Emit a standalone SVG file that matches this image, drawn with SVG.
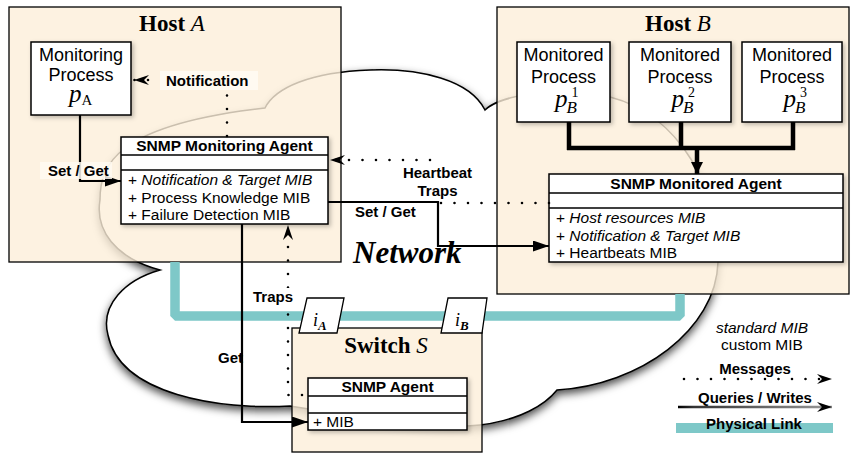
<svg xmlns="http://www.w3.org/2000/svg" width="851" height="454" viewBox="0 0 851 454">
<defs>
<style>
.host{fill:#fcefd9;fill-opacity:.8;stroke:#000;stroke-width:1.3}
.box{fill:#fff;stroke:#000;stroke-width:1.5;filter:url(#sh)}
.sep{stroke:#000;stroke-width:1.5}
.sans{font-family:"Liberation Sans",Arial,sans-serif;fill:#000}
.proc{font-size:18px;text-anchor:middle}
.hdr{font-size:15.5px;font-weight:bold;text-anchor:middle}
.row{font-size:15.5px}
.it{font-style:italic}
.lbl{font-size:15px;font-weight:bold}
.serif{font-family:"Liberation Serif","Times New Roman",serif;fill:#000}
.title{font-size:23px;font-weight:bold}
.var{font-style:italic;font-weight:normal}
.math{font-size:25px;font-style:italic}
.sub{font-size:17px;font-style:italic}
.sup{font-size:14px;font-style:normal}
.solid{fill:none;stroke:#000;stroke-width:2.2}
.dot{fill:none;stroke:#000;stroke-width:2.6;stroke-dasharray:0 13.5;stroke-linecap:round}
.thick{fill:none;stroke:#000;stroke-width:4.5}
.phys{fill:none;stroke:#7ec8c8;stroke-width:9.5;stroke-linejoin:bevel}
.port{fill:#fff;stroke:#000;stroke-width:1.3}
.lbg{fill:#fffaf1}
</style>
<filter id="cs" x="-10%" y="-10%" width="120%" height="130%"><feDropShadow dx="0" dy="4" stdDeviation="4" flood-color="#000" flood-opacity="0.7"/></filter>
<filter id="sh" x="-10%" y="-10%" width="130%" height="130%"><feDropShadow dx="2" dy="2" stdDeviation="2" flood-color="#000" flood-opacity="0.25"/></filter>
<marker id="tri" markerUnits="userSpaceOnUse" markerWidth="16" markerHeight="11" refX="16" refY="5.5" orient="auto"><path d="M0,0 L16,5.5 L0,11 z" fill="#000"/></marker>
<marker id="tri2" markerUnits="userSpaceOnUse" markerWidth="12" markerHeight="12" refX="12" refY="6" orient="auto"><path d="M0,0 L12,6 L0,12 z" fill="#000"/></marker>
<marker id="barb" markerUnits="userSpaceOnUse" markerWidth="15" markerHeight="10" refX="15" refY="5" orient="auto"><path d="M0,0 L15,5 L0,10 L5,5 z" fill="#000"/></marker>
<linearGradient id="qg" gradientUnits="userSpaceOnUse" x1="678" y1="0" x2="832" y2="0"><stop offset="0" stop-color="#000"/><stop offset="0.1" stop-color="#333"/><stop offset="1" stop-color="#999"/></linearGradient>
</defs>
<rect width="851" height="454" fill="#fff"/>

<g id="network">
<path d="M160,270 C115,258 95,230 100,200 C100,165 115,125 265,108 C275,88 310,72 370,70 C420,68 470,80 485,110 C500,95 560,85 610,97 C680,115 720,190 718,262 C716,330 640,385 557,390 C545,405 520,420 480,425 C420,432 330,412 290,406 C220,410 120,395 108,335 C100,305 125,280 160,270 Z" fill="#fff" stroke="#000" stroke-width="1.5" filter="url(#cs)"/>
</g>

<g id="hostA">
<rect class="host" x="9" y="7" width="332" height="255"/>
<text class="serif title" x="172" y="31" text-anchor="middle">Host <tspan class="var">A</tspan></text>
</g>
<g id="hostB">
<rect class="host" x="497" y="7" width="352" height="287"/>
<text class="serif title" x="678" y="31" text-anchor="middle">Host <tspan class="var">B</tspan></text>
</g>

<text class="serif" x="353" y="263" font-size="31" font-weight="bold" font-style="italic">Network</text>

<g id="physical-link">
<path class="phys" d="M175,262 V316 H680 V294"/>
</g>

<g id="switchS">
<rect class="host" x="292" y="328" width="190" height="124"/>
<text class="serif title" x="386" y="353" text-anchor="middle">Switch <tspan class="var">S</tspan></text>
</g>
<g id="portA">
<polygon class="port" points="307,298 344,298 337,333 299,333"/>
<text class="serif" x="313" y="326" font-size="18" font-style="italic">i<tspan font-size="13" font-weight="bold" dy="4">A</tspan></text>
</g>
<g id="portB">
<polygon class="port" points="448,298 487,298 482,333 441,333"/>
<text class="serif" x="455" y="326" font-size="18" font-style="italic">i<tspan font-size="13" font-weight="bold" dy="4">B</tspan></text>
</g>

<g id="monitoringProcess">
<rect class="box" x="31" y="42" width="100" height="73"/>
<text class="sans proc" x="81" y="61">Monitoring</text>
<text class="sans proc" x="81" y="81">Process</text>
<text class="serif math" x="69" y="102">p<tspan font-size="15" font-style="normal" dy="3">A</tspan></text>
</g>

<g id="monitoredProcess1">
<rect class="box" x="517" y="42" width="93" height="80"/>
<text class="sans proc" x="563.5" y="61">Monitored</text>
<text class="sans proc" x="563.5" y="83">Process</text>
<text class="serif math" x="555" y="107">p<tspan class="sup" dx="4" dy="-10">1</tspan><tspan class="sub" dx="-12" dy="16">B</tspan></text>
</g>
<g id="monitoredProcess2">
<rect class="box" x="629" y="42" width="102" height="80"/>
<text class="sans proc" x="680" y="61">Monitored</text>
<text class="sans proc" x="680" y="83">Process</text>
<text class="serif math" x="671.5" y="107">p<tspan class="sup" dx="4" dy="-10">2</tspan><tspan class="sub" dx="-12" dy="16">B</tspan></text>
</g>
<g id="monitoredProcess3">
<rect class="box" x="742" y="42" width="100" height="80"/>
<text class="sans proc" x="792" y="61">Monitored</text>
<text class="sans proc" x="792" y="83">Process</text>
<text class="serif math" x="783.5" y="107">p<tspan class="sup" dx="4" dy="-10">3</tspan><tspan class="sub" dx="-12" dy="16">B</tspan></text>
</g>

<g id="snmpMonitoringAgent">
<rect class="box" x="121" y="137" width="207" height="87"/>
<path class="sep" d="M121,155 H328 M121,170 H328"/>
<text class="sans hdr" x="224.5" y="151">SNMP Monitoring Agent</text>
<text class="sans row" x="128" y="185">+ <tspan class="it">Notification &amp; Target MIB</tspan></text>
<text class="sans row" x="128" y="203">+ Process Knowledge MIB</text>
<text class="sans row" x="128" y="220">+ Failure Detection MIB</text>
</g>

<g id="snmpMonitoredAgent">
<rect class="box" x="549" y="174" width="294" height="88"/>
<path class="sep" d="M549,193 H843 M549,208 H843"/>
<text class="sans hdr" x="696" y="189">SNMP Monitored Agent</text>
<text class="sans row" x="556" y="223">+ <tspan class="it">Host resources MIB</tspan></text>
<text class="sans row" x="556" y="241">+ <tspan class="it">Notification &amp; Target MIB</tspan></text>
<text class="sans row" x="556" y="258">+ Heartbeats MIB</text>
</g>

<g id="snmpAgent">
<rect class="box" x="308" y="378" width="159" height="52"/>
<path class="sep" d="M308,396 H467 M308,413 H467"/>
<text class="sans hdr" x="387.5" y="392">SNMP Agent</text>
<text class="sans row" x="313" y="427">+ MIB</text>
</g>

<g id="connectors">
<path class="solid" d="M80,115 V181 H121" marker-end="url(#tri)"/>
<path class="dot" d="M227,136 V80 H134" marker-end="url(#barb)"/>
<path class="dot" d="M549,203 H439 V160 H330" marker-end="url(#barb)"/>
<path class="solid" d="M328,202 H438 V246 H549" marker-end="url(#tri)"/>
<path class="solid" d="M242,224 V422 H308" marker-end="url(#tri)"/>
<path class="dot" d="M302,395 H288 V225" marker-end="url(#barb)"/>
<path class="thick" d="M569,122 V150 M681,122 V150 M793,122 V150 M567,148 H795"/>
<path class="thick" d="M697,148 V174" marker-end="url(#tri2)"/>
</g>

<g id="labels">
<rect class="lbg" x="160" y="71" width="98" height="19"/>
<text class="sans lbl" x="166" y="86">Notification</text>
<rect class="lbg" x="40" y="162" width="72" height="17" fill-opacity="0.85"/>
<text class="sans lbl" x="48" y="176">Set / Get</text>
<rect x="400" y="163" width="76" height="37" fill="#fff"/>
<text class="sans lbl" x="437.5" y="177.5" text-anchor="middle">Heartbeat</text>
<text class="sans lbl" x="437.5" y="196" text-anchor="middle">Traps</text>
<text class="sans lbl" x="355" y="217">Set / Get</text>
<rect x="252" y="288" width="45" height="17" fill="#fff"/>
<text class="sans lbl" x="253" y="302">Traps</text>
<text class="sans lbl" x="218" y="363">Get</text>
</g>

<g id="legend">
<text class="sans row it" x="762" y="333" text-anchor="middle">standard MIB</text>
<text class="sans row" x="762" y="350" text-anchor="middle">custom MIB</text>
<text class="sans lbl" x="755" y="374" text-anchor="middle">Messages</text>
<path class="dot" d="M684,379 H832" marker-end="url(#barb)"/>
<text class="sans lbl" x="755" y="403" text-anchor="middle">Queries / Writes</text>
<path d="M678,407 H832" fill="none" stroke="url(#qg)" stroke-width="2.5" marker-end="url(#barb)"/>
<rect x="676" y="423" width="157" height="10" fill="#7ec8c8"/>
<text class="sans lbl" x="754" y="429" text-anchor="middle">Physical Link</text>
</g>
</svg>
